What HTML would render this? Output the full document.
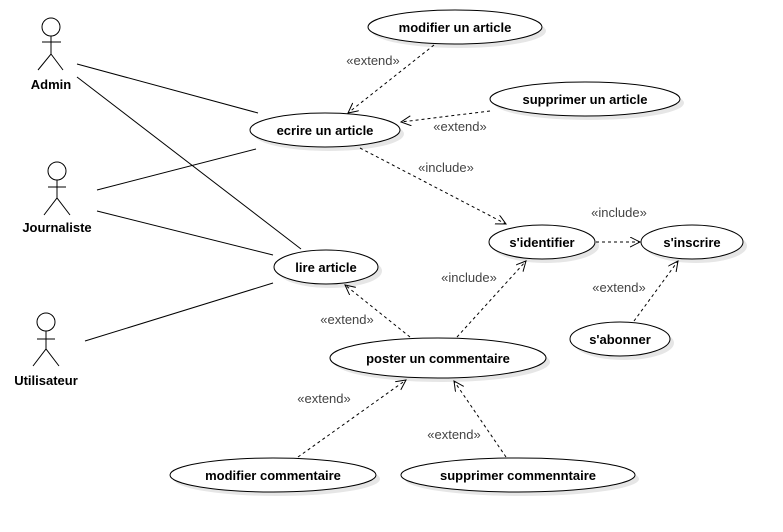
<!DOCTYPE html>
<html><head><meta charset="utf-8"><style>
html,body{margin:0;padding:0;background:#fff;}
svg{display:block;font-family:"Liberation Sans",sans-serif;}
.t{font-size:13px;font-weight:bold;fill:#000;text-anchor:middle;}
.l{font-size:13px;fill:#444;text-anchor:middle;}
.e{fill:#fff;stroke:#000;stroke-width:1;}
.s{fill:#e6e6e6;stroke:none;}
.d{stroke:#000;stroke-width:1;stroke-dasharray:3,3;fill:none;}
.a{stroke:#000;stroke-width:1;fill:none;}
</style></head><body>
<svg width="783" height="532" viewBox="0 0 783 532">
<defs><marker id="m" markerWidth="12" markerHeight="12" refX="10" refY="5" orient="auto" markerUnits="userSpaceOnUse"><path d="M0,0 L10,5 L0,10" fill="none" stroke="#000" stroke-width="1"/></marker></defs>
<g class="a">
<circle cx="51" cy="27" r="9" fill="#fff"/><path d="M51,36V54M42,42H61M38,70L51,54L63,70"/>
<circle cx="57" cy="171" r="9" fill="#fff"/><path d="M57,180V198M48,187H66M44,215L57,198L70,215"/>
<circle cx="46" cy="322" r="9" fill="#fff"/><path d="M46,331V349M37,339H55M33,366L46,349L59,366"/>
</g>
<text class="t" x="51" y="89">Admin</text>
<text class="t" x="57" y="232">Journaliste</text>
<text class="t" x="46" y="385">Utilisateur</text>
<g class="a">
<line x1="77" y1="64" x2="258" y2="113"/>
<line x1="77" y1="77" x2="301" y2="249"/>
<line x1="97" y1="190" x2="256" y2="149"/>
<line x1="97" y1="211" x2="273" y2="255"/>
<line x1="85" y1="341" x2="273" y2="283"/>
</g>
<g class="s">
<ellipse cx="459" cy="31" rx="87" ry="17"/>
<ellipse cx="589" cy="103" rx="95" ry="17"/>
<ellipse cx="329" cy="134" rx="75" ry="17"/>
<ellipse cx="546" cy="246" rx="53" ry="17"/>
<ellipse cx="696" cy="246" rx="51" ry="17"/>
<ellipse cx="624" cy="343" rx="50" ry="17"/>
<ellipse cx="330" cy="271" rx="52" ry="17"/>
<ellipse cx="442" cy="362" rx="108" ry="20"/>
<ellipse cx="277" cy="479" rx="103" ry="17"/>
<ellipse cx="522" cy="479" rx="117" ry="17"/>
</g>
<g class="e">
<ellipse cx="455" cy="27" rx="87" ry="17"/>
<ellipse cx="585" cy="99" rx="95" ry="17"/>
<ellipse cx="325" cy="130" rx="75" ry="17"/>
<ellipse cx="542" cy="242" rx="53" ry="17"/>
<ellipse cx="692" cy="242" rx="51" ry="17"/>
<ellipse cx="620" cy="339" rx="50" ry="17"/>
<ellipse cx="326" cy="267" rx="52" ry="17"/>
<ellipse cx="438" cy="358" rx="108" ry="20"/>
<ellipse cx="273" cy="475" rx="103" ry="17"/>
<ellipse cx="518" cy="475" rx="117" ry="17"/>
</g>
<text class="t" x="455" y="32">modifier un article</text>
<text class="t" x="585" y="104">supprimer un article</text>
<text class="t" x="325" y="135">ecrire un article</text>
<text class="t" x="542" y="247">s'identifier</text>
<text class="t" x="692" y="247">s'inscrire</text>
<text class="t" x="620" y="344">s'abonner</text>
<text class="t" x="326" y="272">lire article</text>
<text class="t" x="438" y="363">poster un commentaire</text>
<text class="t" x="273" y="480">modifier commentaire</text>
<text class="t" x="518" y="480">supprimer commenntaire</text>
<g class="d" marker-end="url(#m)">
<line x1="434" y1="45" x2="348" y2="113"/>
<line x1="490" y1="111" x2="401" y2="122"/>
<line x1="360" y1="148" x2="506" y2="224"/>
<line x1="596" y1="242" x2="640" y2="242"/>
<line x1="634" y1="321" x2="678" y2="261"/>
<line x1="457" y1="337" x2="526" y2="261"/>
<line x1="410" y1="337" x2="345" y2="285"/>
<line x1="298" y1="457" x2="406" y2="380"/>
<line x1="506" y1="457" x2="454" y2="381"/>
</g>
<text class="l" x="373" y="65">«extend»</text>
<text class="l" x="460" y="131">«extend»</text>
<text class="l" x="446" y="172">«include»</text>
<text class="l" x="619" y="217">«include»</text>
<text class="l" x="619" y="292">«extend»</text>
<text class="l" x="469" y="282">«include»</text>
<text class="l" x="347" y="324">«extend»</text>
<text class="l" x="324" y="403">«extend»</text>
<text class="l" x="454" y="439">«extend»</text>
</svg>
</body></html>
